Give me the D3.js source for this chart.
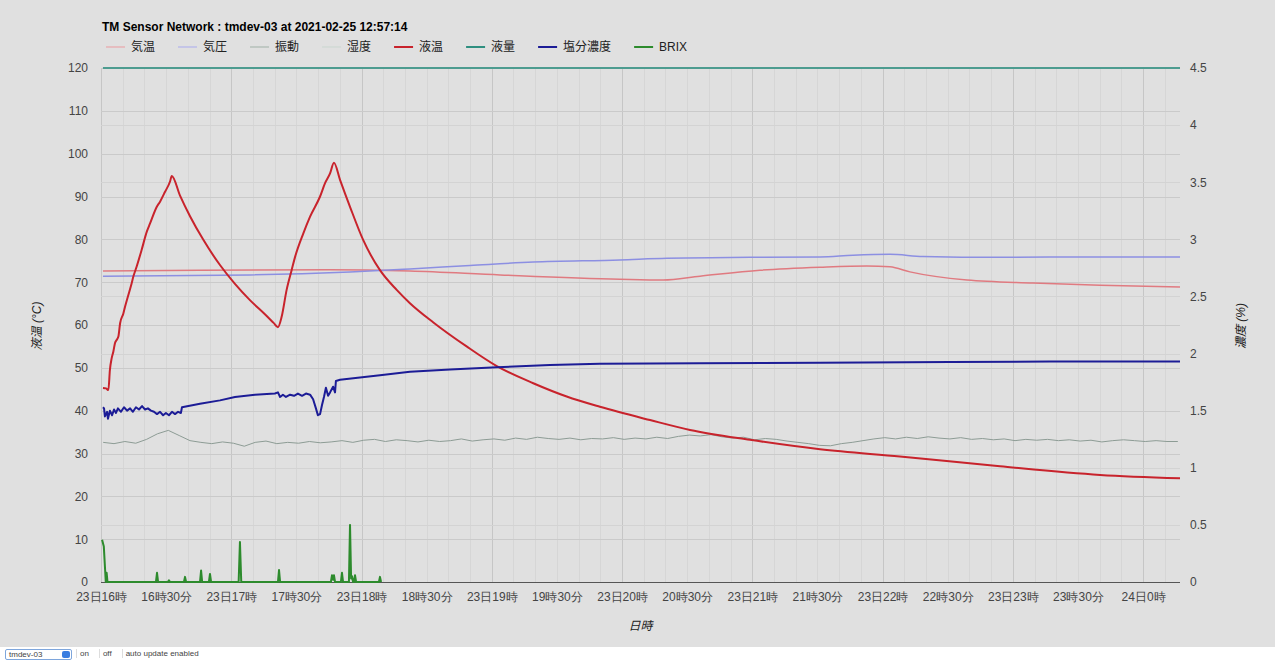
<!DOCTYPE html>
<html lang="ja">
<head>
<meta charset="UTF-8">
<title>TM Sensor Network</title>
<script src="https://d3js.org/d3.v7.min.js"></script>
<style>
    body {
        margin: 0;
        background: #fff;
        font-family: Arial, "Liberation Sans", "Noto Sans CJK JP", sans-serif;
    }
    #chart {
        width: 1275px;
        height: 647px;
        background: #e0e0e0;
    }
    #controls {
        position: absolute;
        left: 5px;
        top: 649px;
        height: 10px;
        font-size: 8px;
        color: #444;
        white-space: nowrap;
    }
    #controls span {
        display: inline-block;
        vertical-align: top;
        height: 9px;
        line-height: 9px;
    }
    .sel {
        position: relative;
        width: 52px;
        padding: 0 10px 0 3px;
        border: 1px solid #7ea6dc;
        border-radius: 2px;
    }
    .sel .arr {
        position: absolute;
        right: 1px;
        top: 1px;
        width: 8px;
        height: 7px !important;
        background: #3a7de0;
        border-radius: 2px;
    }
    .btn {
        margin-left: 4px;
        padding: 0 6px 0 3px;
        border-left: 1px solid #ddd;
    }
    .axis text {
        fill: #444;
        font-size: 12px;
    }
</style>
</head>
<body>
<div id="chart"><svg width="1275" height="647"></svg></div>
<div id="controls">
    <span class="sel">tmdev-03<span class="arr"></span></span><span class="btn">on</span><span class="btn">off</span><span class="btn">auto update enabled</span>
</div>

<script>
    // minutes after 23日16時
    var liqTempMin = [0.9, 2.3, 3.4, 4.1, 4.9, 5.7, 6.4, 7.2, 8.0, 8.8, 10.3, 11.1, 12.6, 14.1, 14.9, 16.4, 18.7, 21.1, 22.6, 25.7, 27.2, 29.5, 31.8, 32.6,
        36.4, 41.0, 47.0, 54.8, 61.7, 68.6, 75.5, 79.5, 81.5,
        83.2, 85.5, 87.8, 89.4, 93.2, 96.3, 100.9, 103.2, 105.5, 107.3,
        110.1, 114.7, 120.8, 128.5, 136.2, 142.3, 153.1, 168.4, 182.3, 199.1, 214.5, 229.8, 252.9, 271.3, 298.9, 331.2, 368.0, 414.1, 460.2, 497.0];
    var liqTempVal = [45.3, 45.2, 44.8, 49.5, 52.2, 53.8, 55.7, 56.5, 57.3, 60.4, 62.7, 64.3, 67.0, 69.7, 71.3, 73.6, 77.5, 81.8, 83.7, 87.6, 88.8, 91.1, 93.5, 94.8,
        90.2, 85.4, 80.0, 74.0, 69.6, 65.8, 62.5, 60.5, 59.5,
        61.9, 68.2, 72.8, 75.9, 81.4, 85.3, 90.0, 93.1, 95.4, 97.9,
        93.9, 87.6, 79.8, 72.8, 68.2, 65.1, 60.6, 55.0, 50.4, 46.4, 43.3, 40.9, 37.8, 35.5, 33.2, 31.0, 29.3, 27.0, 25.0, 24.2];

    var airTempMin = [0.9, 45.6, 105.5, 142.3, 183.8, 239.0, 258.9, 275.9, 303.5, 331.2, 352.8, 363.4, 372.6, 398.9, 429.3, 460.2, 497.0];
    var airTempVal = [72.6, 72.8, 72.9, 72.6, 71.7, 70.7, 70.5, 71.4, 72.8, 73.5, 73.8, 73.6, 72.4, 70.5, 69.8, 69.3, 68.9];

    var airPresMin = [0.9, 68.6, 114.7, 142.3, 170.0, 199.1, 239.0, 260.7, 299.0, 331.2, 346.4, 363.4, 378.6, 414.1, 460.2, 497.0];
    var airPresVal = [71.4, 71.7, 72.4, 73.1, 73.9, 74.7, 75.2, 75.6, 75.8, 75.9, 76.3, 76.5, 76.0, 75.8, 75.9, 75.9];

    // 振動: one reading every 5 minutes from minute 1
    var vibStart = 1, vibStep = 5;
    var vibVal = [32.6, 32.3, 32.8, 32.4, 33.3, 34.6, 35.4, 34.2, 33.0, 32.6,
        32.3, 32.7, 32.4, 31.7, 32.6, 32.9, 32.3, 32.6, 32.4, 32.8,
        32.5, 32.7, 33.0, 32.6, 33.1, 33.3, 32.8, 33.2, 33.0, 32.7,
        33.1, 32.8, 33.0, 33.4, 32.9, 33.2, 33.4, 33.1, 33.6, 33.3,
        33.8, 33.5, 33.3, 33.6, 33.2, 33.5, 33.4, 33.7, 33.3, 33.6,
        33.4, 33.8, 33.5, 34.0, 34.3, 34.1, 34.4, 33.9, 33.6, 33.8,
        33.2, 33.5, 33.3, 32.9, 32.6, 32.3, 31.9, 31.8, 32.3, 32.6,
        33.0, 33.4, 33.7, 33.4, 33.8, 33.5, 33.9, 33.6, 33.4, 33.7,
        33.3, 33.5, 33.2, 33.4, 33.0, 33.3, 33.1, 33.3, 33.0, 33.2,
        32.9, 33.1, 32.7, 33.0, 33.2, 33.0, 32.8, 33.0, 32.8, 32.8];

    var levelMin = [0.9, 497.0];
    var levelVal = [120, 120];

    // 塩分濃度 (%)
    var saltMin = [0.9, 1.4, 1.8, 2.8, 3.2, 4.1, 5.1, 6.0, 6.9, 7.8, 9.2, 10.6, 12.0, 13.4, 14.7, 16.1, 17.5, 18.9, 20.3, 21.6,
        23.0, 24.4, 25.8, 27.2, 28.6, 29.9, 31.3, 32.7, 34.1, 35.5, 36.8, 37.3, 45.6, 54.8, 61.7, 70.9, 80.1, 81.5, 82.5, 83.8,
        85.2, 87.1, 88.9, 90.7, 92.6, 94.4, 96.3, 97.7, 99.0, 99.9, 100.9, 101.8, 102.7, 103.6, 104.6, 105.5, 106.9, 107.8, 108.2, 110.1,
        119.3, 128.5, 142.3, 160.8, 182.4, 206.8, 229.8, 275.9, 331.2, 391.1, 437.1, 497.0];
    var saltVal = [1.53, 1.52, 1.45, 1.49, 1.43, 1.50, 1.46, 1.51, 1.48, 1.52, 1.49, 1.53, 1.50, 1.52, 1.49, 1.53, 1.51, 1.54, 1.51, 1.52,
        1.50, 1.49, 1.47, 1.49, 1.46, 1.48, 1.46, 1.49, 1.47, 1.49, 1.48, 1.53, 1.56, 1.59, 1.62, 1.64, 1.65, 1.66, 1.62, 1.64,
        1.62, 1.64, 1.63, 1.65, 1.63, 1.65, 1.64, 1.60, 1.52, 1.46, 1.47, 1.55, 1.62, 1.70, 1.63, 1.66, 1.71, 1.66, 1.76, 1.77,
        1.79, 1.81, 1.84, 1.86, 1.88, 1.90, 1.91, 1.915, 1.92, 1.925, 1.93, 1.93];

    // BRIX (%)
    var brixMin = [0.5, 1.3, 2.2, 2.6, 3.0, 25.3, 25.8, 26.3, 30.8, 31.3, 31.8, 38.2, 38.7, 39.2, 45.6, 46.1, 46.6, 49.7, 50.2, 50.7,
        63.4, 64.0, 64.6, 81.5, 82.0, 82.5, 105.9, 106.4, 106.9, 107.3, 107.8, 110.5, 111.0, 111.5,
        114.2, 114.7, 115.2, 115.6, 116.1, 116.5, 117.0, 117.5, 128.0, 128.5, 129.0];
    var brixVal = [0.37, 0.31, 0, 0.08, 0, 0, 0.08, 0, 0, 0.015, 0, 0, 0.045, 0, 0, 0.10, 0, 0, 0.07, 0,
        0, 0.35, 0, 0, 0.105, 0, 0, 0.06, 0.02, 0.06, 0, 0, 0.08, 0,
        0, 0.50, 0.03, 0.05, 0, 0, 0.06, 0, 0, 0.045, 0];

    var xTickMin = [0, 30, 60, 90, 120, 150, 180, 210, 240, 270, 300, 330, 360, 390, 420, 450, 480];
    var xTickLabels = ["23日16時", "16時30分", "23日17時", "17時30分", "23日18時", "18時30分", "23日19時", "19時30分", "23日20時",
        "20時30分", "23日21時", "21時30分", "23日22時", "22時30分", "23日23時", "23時30分", "24日0時"];
    var leftTicks = [0, 10, 20, 30, 40, 50, 60, 70, 80, 90, 100, 110, 120];
    var rightTicks = [0, 0.5, 1, 1.5, 2, 2.5, 3, 3.5, 4, 4.5];
    var rightTickLabels = ["0", "0.5", "1", "1.5", "2", "2.5", "3", "3.5", "4", "4.5"];

    var legendNames = ["気温", "気圧", "振動", "湿度", "液温", "液量", "塩分濃度", "BRIX"];
    var legendColors = ["#eb9a9f", "#a9aaee", "#9fb0a6", "#c9d6cf", "#c8232c", "#2f8f80", "#1c1c96", "#2d8b2d"];
    var legendWidths = [1, 1, 1, 1, 2, 2, 2, 2];

    var svg = d3.select("svg"),
        plotLeft = 101, plotRight = 1180, plotTop = 68, plotBottom = 582;

    var base = new Date(2021, 1, 23, 16, 0, 0);
    function at(m) { return new Date(base.getTime() + m * 60000); }

    var x = d3.scaleTime().domain([at(0), at(497)]).range([plotLeft, plotRight]),
        yL = d3.scaleLinear().domain([0, 120]).range([plotBottom, plotTop]),
        yR = d3.scaleLinear().domain([0, 4.5]).range([plotBottom, plotTop]);

    // grid
    var grid = svg.append("g");
    grid.selectAll(".vmin").data(x.ticks(d3.timeMinute.every(10))).enter().append("line")
        .attr("x1", function(d) { return Math.round(x(d)) + 0.5; })
        .attr("x2", function(d) { return Math.round(x(d)) + 0.5; })
        .attr("y1", plotTop).attr("y2", plotBottom)
        .attr("stroke", "#d6d6d6");
    grid.selectAll(".vhour").data(x.ticks(d3.timeHour.every(1))).enter().append("line")
        .attr("x1", function(d) { return Math.round(x(d)) + 0.5; })
        .attr("x2", function(d) { return Math.round(x(d)) + 0.5; })
        .attr("y1", plotTop).attr("y2", plotBottom)
        .attr("stroke", "#c6c6c6");
    grid.selectAll(".hr").data(rightTicks).enter().append("line")
        .attr("x1", plotLeft).attr("x2", plotRight)
        .attr("y1", function(d) { return Math.round(yR(d)) + 0.5; })
        .attr("y2", function(d) { return Math.round(yR(d)) + 0.5; })
        .attr("stroke", "#d3d3d3");
    grid.selectAll(".hl").data(leftTicks).enter().append("line")
        .attr("x1", plotLeft).attr("x2", plotRight)
        .attr("y1", function(d) { return Math.round(yL(d)) + 0.5; })
        .attr("y2", function(d) { return Math.round(yL(d)) + 0.5; })
        .attr("stroke", "#cacaca");

    // baseline
    svg.append("line")
        .attr("x1", plotLeft).attr("x2", plotRight)
        .attr("y1", yL(0) + 0.5).attr("y2", yL(0) + 0.5)
        .attr("stroke", "#555");

    // axes
    svg.append("g").attr("class", "axis")
        .attr("transform", "translate(0," + plotBottom + ")")
        .call(d3.axisBottom(x).tickValues(xTickMin.map(at)).tickSize(0).tickPadding(10)
            .tickFormat(function(d, i) { return xTickLabels[i]; }))
        .call(function(g) { g.select(".domain").remove(); });

    svg.append("g").attr("class", "axis")
        .attr("transform", "translate(" + plotLeft + ",0)")
        .call(d3.axisLeft(yL).tickValues(leftTicks).tickSize(0).tickPadding(13))
        .call(function(g) { g.select(".domain").remove(); });

    svg.append("g").attr("class", "axis")
        .attr("transform", "translate(" + plotRight + ",0)")
        .call(d3.axisRight(yR).tickValues(rightTicks).tickSize(0).tickPadding(10)
            .tickFormat(function(d, i) { return rightTickLabels[i]; }))
        .call(function(g) { g.select(".domain").remove(); });

    // axis titles
    svg.append("text").attr("transform", "translate(41,326) rotate(-90)")
        .attr("text-anchor", "middle").attr("font-size", "12px").attr("font-style", "italic").attr("fill", "#222")
        .text("液温 (°C)");
    svg.append("text").attr("transform", "translate(1245,326) rotate(-90)")
        .attr("text-anchor", "middle").attr("font-size", "12px").attr("font-style", "italic").attr("fill", "#222")
        .text("濃度 (%)");
    svg.append("text").attr("x", (plotLeft + plotRight) / 2).attr("y", 630)
        .attr("text-anchor", "middle").attr("font-size", "12px").attr("font-style", "italic").attr("fill", "#222")
        .text("日時");

    // series
    function pairs(ms, vs) { return ms.map(function(m, i) { return [m, vs[i]]; }); }
    var lineL = d3.line().x(function(d) { return x(at(d[0])); }).y(function(d) { return yL(d[1]); });
    var lineR = d3.line().x(function(d) { return x(at(d[0])); }).y(function(d) { return yR(d[1]); });

    var plot = svg.append("g").attr("fill", "none").attr("stroke-linejoin", "round");

    plot.append("path").datum(pairs(airTempMin, airTempVal))
        .attr("d", lineL.curve(d3.curveMonotoneX))
        .attr("stroke", "#e07a80").attr("stroke-width", 1.5);
    plot.append("path").datum(pairs(airPresMin, airPresVal))
        .attr("d", lineL.curve(d3.curveMonotoneX))
        .attr("stroke", "#8c8fe2").attr("stroke-width", 1.5);
    plot.append("path").datum(vibVal.map(function(v, i) { return [vibStart + i * vibStep, v]; }))
        .attr("d", lineL.curve(d3.curveLinear))
        .attr("stroke", "#8d9c95").attr("stroke-width", 1);
    plot.append("path").datum(pairs(liqTempMin, liqTempVal))
        .attr("d", lineL.curve(d3.curveMonotoneX))
        .attr("stroke", legendColors[4]).attr("stroke-width", 2);
    plot.append("path").datum(pairs(levelMin, levelVal))
        .attr("d", lineL.curve(d3.curveLinear))
        .attr("stroke", "#4d9c90").attr("stroke-width", 2);
    plot.append("path").datum(pairs(saltMin, saltVal))
        .attr("d", lineR.curve(d3.curveLinear))
        .attr("stroke", legendColors[6]).attr("stroke-width", 2);
    plot.append("path").datum(pairs(brixMin, brixVal))
        .attr("d", lineR.curve(d3.curveLinear))
        .attr("stroke", legendColors[7]).attr("stroke-width", 2);

    // title
    svg.append("text").attr("x", 102).attr("y", 31)
        .attr("font-size", "12px").attr("font-weight", "bold").attr("fill", "#000")
        .text("TM Sensor Network : tmdev-03 at 2021-02-25 12:57:14");

    // legend
    var lx = 106, ly = 47;
    legendNames.forEach(function(name, i) {
        svg.append("line")
            .attr("x1", lx).attr("x2", lx + 19)
            .attr("y1", ly).attr("y2", ly)
            .attr("stroke", legendColors[i]).attr("stroke-width", legendWidths[i]);
        var t = svg.append("text")
            .attr("x", lx + 25).attr("y", ly + 4)
            .attr("font-size", "12px").attr("fill", "#222")
            .text(name);
        lx += 25 + t.node().getComputedTextLength() + 23;
    });
</script>
</body>
</html>
